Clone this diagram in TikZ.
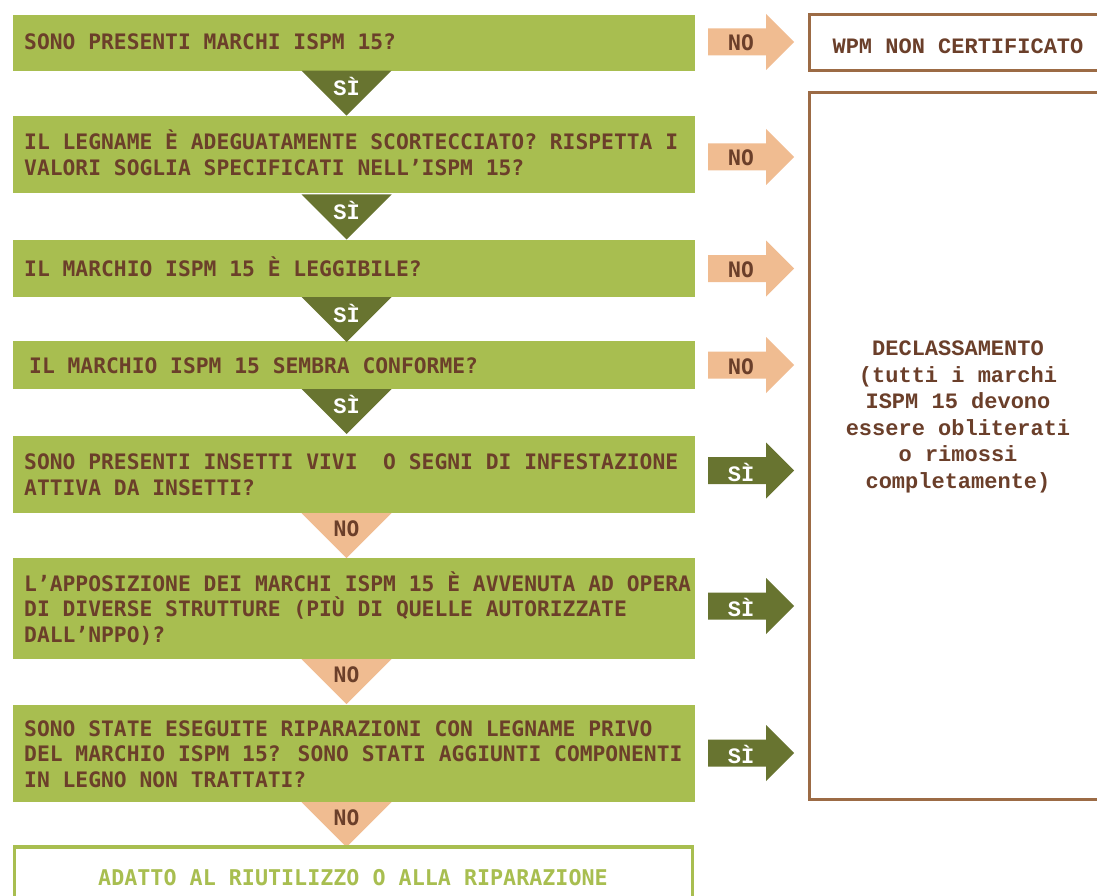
\documentclass[tikz,border=0pt]{standalone}
\usepackage{fontspec}
\newfontfamily\qfont{DejaVu Sans Mono}
\newfontfamily\ofont{Liberation Mono}
\definecolor{lgreen}{HTML}{A8BE50}
\definecolor{dgreen}{HTML}{687430}
\definecolor{peach}{HTML}{F0BC91}
\definecolor{tbrown}{HTML}{6B3F2A}
\definecolor{bbrown}{HTML}{9C6B45}
\newcommand\myRarrow[2]{\fill[#2] (#1) ++(0,-13.5) -- ++(58,0) -- ++(0,-14.5) -- ++(28,28) -- ++(-28,28) -- ++(0,-14.5) -- ++(-58,0) -- cycle;}
\newcommand\myDtri[2]{\fill[#2] (#1) ++(-45,0) -- ++(90,0) -- ++(-45,45) -- cycle;}
\begin{document}
\begin{tikzpicture}[x=1pt,y=-1pt,
  qbox/.style={fill=lgreen, draw=none, minimum width=682, inner sep=0},
  qtext/.style={anchor=base west, align=left, inner sep=0, text=tbrown,
    font=\qfont\bfseries\fontsize{21.3}{25.5}\selectfont},
  nolabel/.style={anchor=base, inner sep=0, text=tbrown,
    font=\qfont\bfseries\fontsize{21.3}{25.5}\selectfont},
  silabel/.style={anchor=base, inner sep=0, text=white,
    font=\ofont\bfseries\fontsize{22}{26}\selectfont},
  outbox/.style={draw=bbrown, line width=3, minimum width=297, inner sep=0},
  otext/.style={align=center, inner sep=0, text=tbrown,
    font=\ofont\bfseries\fontsize{22}{26.5}\selectfont},
]
\useasboundingbox[fill=white] (0,0) rectangle (1097,896);

% question boxes
\node[qbox, minimum height=56] (q1) at (354,42.7) {};
\node[qbox, minimum height=77] (q2) at (354,155) {};
\node[qbox, minimum height=57] (q3) at (354,268.5) {};
\node[qbox, minimum height=48] (q4) at (354,365) {};
\node[qbox, minimum height=77] (q5) at (354,474.5) {};
\node[qbox, minimum height=101] (q6) at (354,608.5) {};
\node[qbox, minimum height=97] (q7) at (354,753.5) {};

% text nodes: base anchor = baseline of the last line
\node[qtext] (t1) at (24,50) {SONO PRESENTI MARCHI ISPM 15?};
\node[qtext] (t2) at (24,175.5) {IL LEGNAME È ADEGUATAMENTE SCORTECCIATO? RISPETTA I\\VALORI SOGLIA SPECIFICATI NELL’ISPM 15?};
\node[qtext] (t3) at (24,276) {IL MARCHIO ISPM 15 È LEGGIBILE?};
\node[qtext] (t4) at (29,373) {IL MARCHIO ISPM 15 SEMBRA CONFORME?};
\node[qtext] (t5) at (24,495) {SONO PRESENTI INSETTI VIVI\ \ O SEGNI DI INFESTAZIONE\\ATTIVA DA INSETTI?};
\node[qtext] (t6) at (24,642) {L’APPOSIZIONE DEI MARCHI ISPM 15 È AVVENUTA AD OPERA\\DI DIVERSE STRUTTURE (PIÙ DI QUELLE AUTORIZZATE\\DALL’NPPO)?};
\node[qtext] (t7) at (24,787) {SONO STATE ESEGUITE RIPARAZIONI CON LEGNAME PRIVO\\DEL MARCHIO ISPM 15? SONO STATI AGGIUNTI COMPONENTI\\IN LEGNO NON TRATTATI?};

% down triangles
\coordinate (d1) at (346.5,70.7);
\coordinate (d2) at (346.5,194.5);
\coordinate (d3) at (346.5,297);
\coordinate (d4) at (346.5,389);
\coordinate (d5) at (346.5,513);
\coordinate (d6) at (346.5,659);
\coordinate (d7) at (346.5,802);
\myDtri{d1}{dgreen}
\myDtri{d2}{dgreen}
\myDtri{d3}{dgreen}
\myDtri{d4}{dgreen}
\myDtri{d5}{peach}
\myDtri{d6}{peach}
\myDtri{d7}{peach}
\node[silabel] (s1) at ([yshift=-25pt]d1) {SÌ};
\node[silabel] (s2) at ([yshift=-25pt]d2) {SÌ};
\node[silabel] (s3) at ([yshift=-25pt]d3) {SÌ};
\node[silabel] (s4) at ([yshift=-24pt]d4) {SÌ};
\node[nolabel] (n5) at ([yshift=-23pt]d5) {NO};
\node[nolabel] (n6) at ([yshift=-23pt]d6) {NO};
\node[nolabel] (n7) at ([yshift=-23pt]d7) {NO};

% right arrows
\coordinate (r1) at (708,42);
\coordinate (r2) at (708,157);
\coordinate (r3) at (708,268.5);
\coordinate (r4) at (708,365);
\coordinate (r5) at (708,470.5);
\coordinate (r6) at (708,606);
\coordinate (r7) at (708,753);
\myRarrow{r1}{peach}
\myRarrow{r2}{peach}
\myRarrow{r3}{peach}
\myRarrow{r4}{peach}
\myRarrow{r5}{dgreen}
\myRarrow{r6}{dgreen}
\myRarrow{r7}{dgreen}
\node[nolabel] (rn1) at ([xshift=33pt,yshift=-9pt]r1) {NO};
\node[nolabel] (rn2) at ([xshift=33pt,yshift=-9pt]r2) {NO};
\node[nolabel] (rn3) at ([xshift=33pt,yshift=-9pt]r3) {NO};
\node[nolabel] (rn4) at ([xshift=33pt,yshift=-9pt]r4) {NO};
\node[silabel] (rs5) at ([xshift=33pt,yshift=-10.5pt]r5) {SÌ};
\node[silabel] (rs6) at ([xshift=33pt,yshift=-10.5pt]r6) {SÌ};
\node[silabel] (rs7) at ([xshift=33pt,yshift=-10.5pt]r7) {SÌ};

% outcome boxes
\node[outbox, minimum height=56] (wpm) at (958,42.2) {};
\node[otext] (wpmt) at (958,46.5) {WPM NON CERTIFICATO};
\node[outbox, minimum height=706.5] (dec) at (958,445.75) {};
\node[otext] (dect) at (958,417) {DECLASSAMENTO\\(tutti i marchi\\ISPM 15 devono\\essere obliterati\\o rimossi\\completamente)};

% final box
\node[draw=lgreen, line width=3.5, minimum width=677.75, minimum height=100, inner sep=0] (fin) at (353.6,896.75) {};
\node[anchor=base, inner sep=0, text=lgreen, font=\qfont\bfseries\fontsize{21.7}{26}\selectfont] (fint) at (353,885.5) {ADATTO AL RIUTILIZZO O ALLA RIPARAZIONE};
\end{tikzpicture}
\end{document}
